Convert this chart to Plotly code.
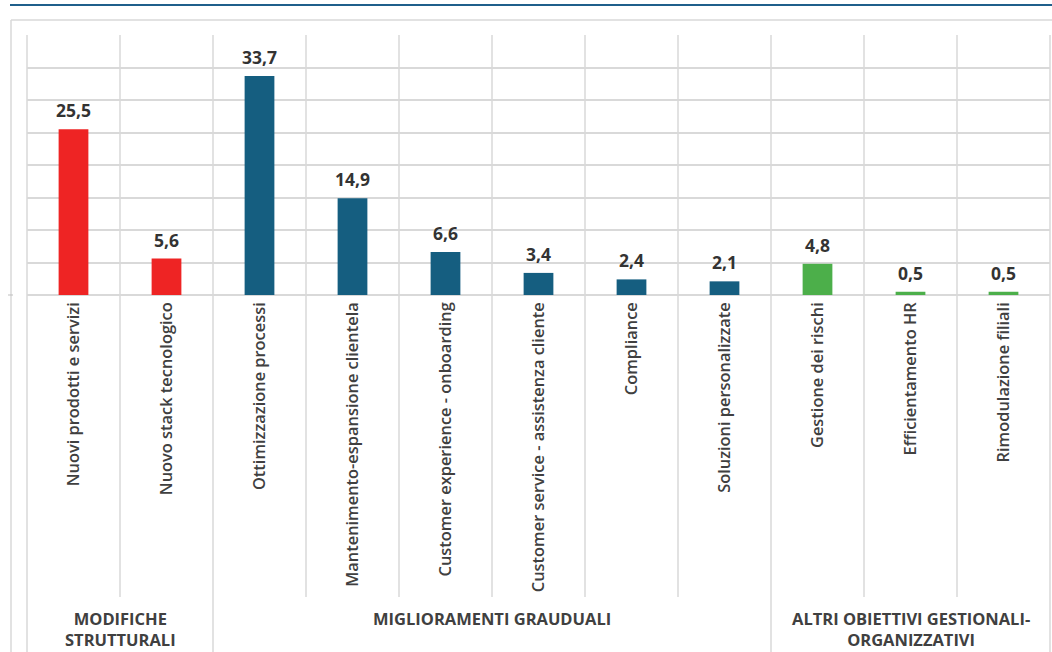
import plotly.graph_objects as go

categories = [
    "Nuovi prodotti e servizi", "Nuovo stack tecnologico",
    "Ottimizzazione processi", "Mantenimento-espansione clientela",
    "Customer experience - onboarding", "Customer service - assistenza cliente",
    "Compliance", "Soluzioni personalizzate",
    "Gestione dei rischi", "Efficientamento HR", "Rimodulazione filiali",
]
values = [25.5, 5.6, 33.7, 14.9, 6.6, 3.4, 2.4, 2.1, 4.8, 0.5, 0.5]
groups = ["MODIFICHE<br>STRUTTURALI", "MIGLIORAMENTI GRAUDUALI",
          "ALTRI OBIETTIVI GESTIONALI-<br>ORGANIZZATIVI"]
group_sizes = [2, 6, 3]
group_colors = ["#ee2424", "#155e80", "#4caf4a"]

FONT = "Open Sans"
W, H = 1052, 652
L, R, T, B = 27, 2, 35, 357
plot_h = H - T - B
plot_w = W - L - R

def py(pix):
    # pixel row -> paper y
    return (H - B - pix) / plot_h

def px(pix):
    return (pix - L) / plot_w

colors = []
for g, n in enumerate(group_sizes):
    colors += [group_colors[g]] * n

n = len(categories)
xs = list(range(n))

fig = go.Figure()
fig.add_trace(go.Bar(
    x=xs, y=values,
    marker=dict(color=colors, line=dict(width=0)),
    width=0.32,
    hoverinfo="skip",
))

shapes = []
# top rule and outer frame
shapes.append(dict(type="line", xref="paper", yref="paper", x0=px(10), x1=px(1052),
                   y0=py(5), y1=py(5), line=dict(color="#1f5f8b", width=2)))
shapes.append(dict(type="line", xref="paper", yref="paper", x0=px(11), x1=px(1052),
                   y0=py(20), y1=py(20), line=dict(color="#d9d9d9", width=1.5)))
shapes.append(dict(type="line", xref="paper", yref="paper", x0=px(11), x1=px(11),
                   y0=py(20), y1=py(660), line=dict(color="#d9d9d9", width=1.5)))
shapes.append(dict(type="line", xref="paper", yref="paper", x0=px(8), x1=px(13),
                   y0=0, y1=0, line=dict(color="#bfbfbf", width=1)))

# category separators
bounds = [0]
for s in group_sizes:
    bounds.append(bounds[-1] + s)
for k in range(n + 1):
    y_end = py(660) if k in bounds else py(597)
    shapes.append(dict(type="line", xref="paper", yref="paper", x0=k / n, x1=k / n,
                       y0=1, y1=y_end, line=dict(color="#d9d9d9", width=1.5)))

annotations = []
# value labels
for x, v in zip(xs, values):
    annotations.append(dict(
        x=x, y=v, xref="x", yref="y", yanchor="bottom", yshift=5,
        text=f"{v:.1f}".replace(".", ","), showarrow=False,
        font=dict(family=FONT, size=17.5, color="#333333", weight="bold"),
    ))
# group labels
for g, name in enumerate(groups):
    center = (bounds[g] + bounds[g + 1] - 1) / 2
    annotations.append(dict(
        x=center, xref="x", y=py(605), yref="paper", yanchor="top",
        text=name, showarrow=False, align="center",
        font=dict(family=FONT, size=16.5, color="#404040", weight="bold"),
    ))

fig.update_layout(
    width=W, height=H,
    margin=dict(l=L, r=R, t=T, b=B),
    paper_bgcolor="white", plot_bgcolor="white",
    showlegend=False,
    shapes=shapes,
    annotations=annotations,
    xaxis=dict(
        range=[-0.5, n - 0.5], tickmode="array", tickvals=xs, ticktext=categories,
        tickangle=-90, showgrid=False, zeroline=False, showline=False, ticks="",
        ticklabelstandoff=3,
        tickfont=dict(family=FONT, size=16.4, color="#404040", weight=600),
    ),
    yaxis=dict(
        range=[0, 40], dtick=5, showticklabels=False, gridcolor="#d9d9d9",
        gridwidth=1.5, zeroline=True, zerolinecolor="#d9d9d9", zerolinewidth=1.5,
        showline=False,
    ),
)

fig.write_html("out.html", config={"displayModeBar": False},
               post_script="document.body.style.margin='0';")
